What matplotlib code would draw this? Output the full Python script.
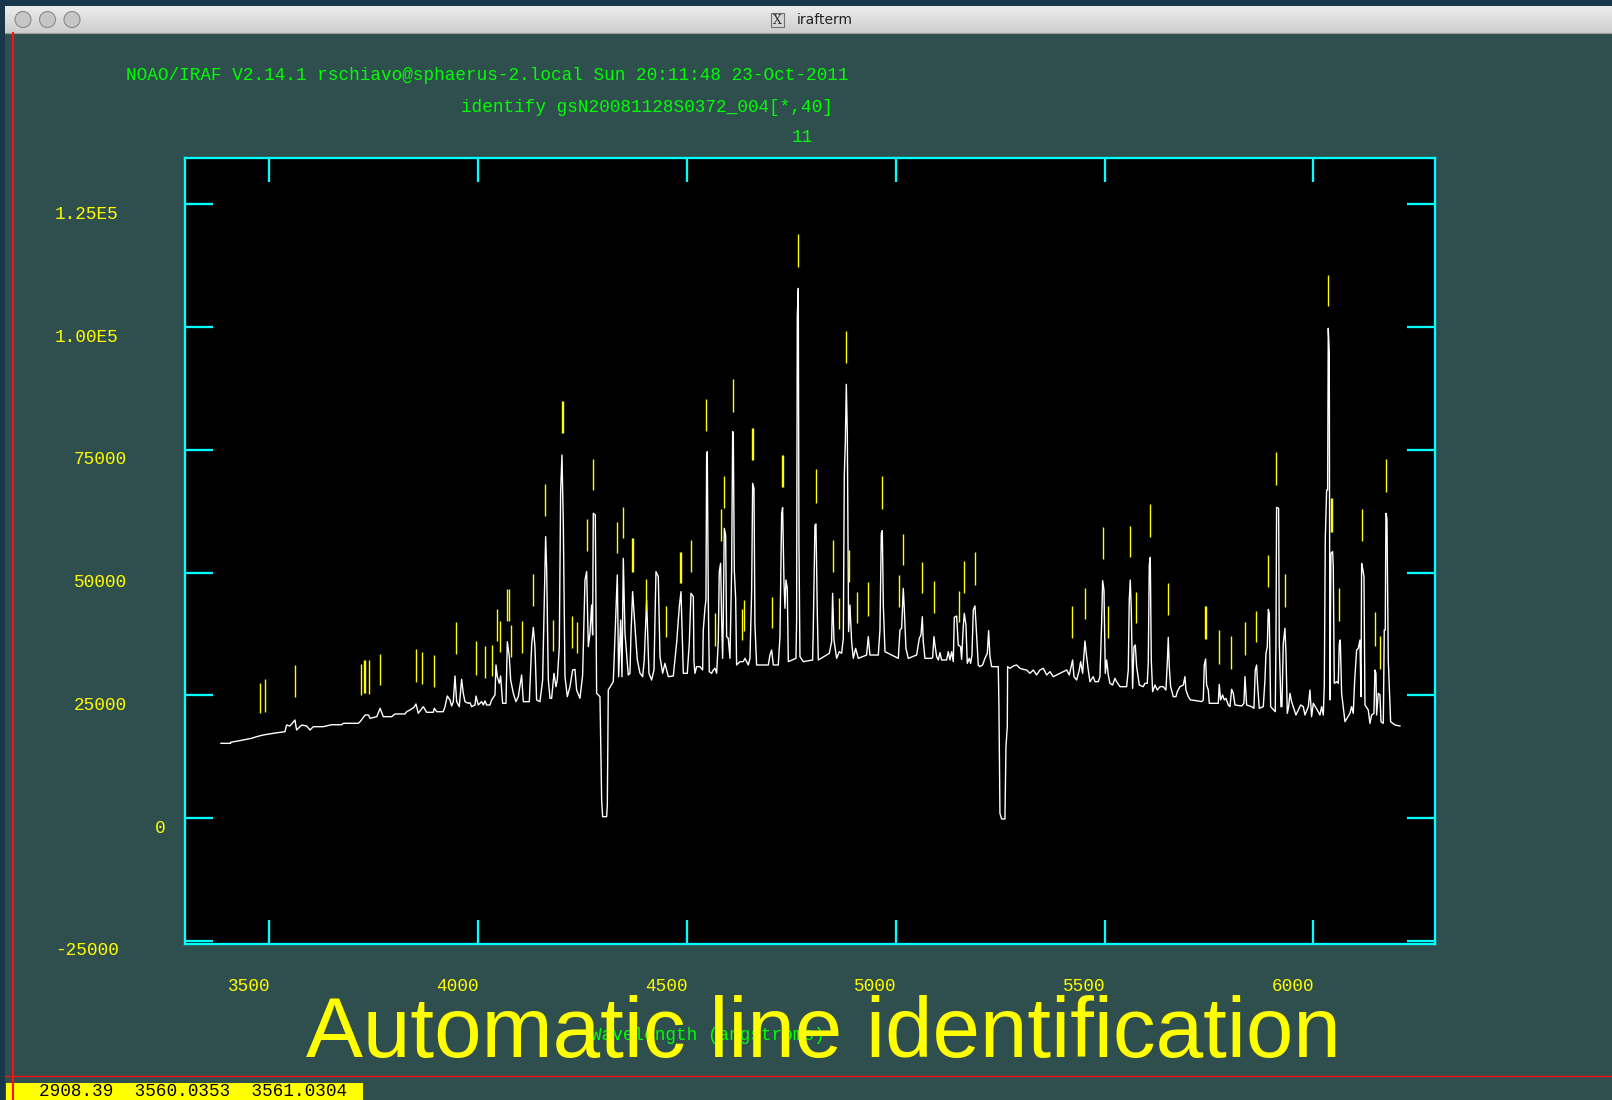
import matplotlib
matplotlib.use("Agg")
import matplotlib.pyplot as plt
import numpy as np
from matplotlib import transforms
from matplotlib.patches import Rectangle, Circle
from matplotlib.colors import LinearSegmentedColormap

# ---- spectrum (wavelength in A, counts) ----
spec_wave = [3383.8, 3407, 3407, 3433.4, 3457.4, 3469.3, 3485.2, 3509, 3537, 3541, 3549, 3561, 3565, 3577,
             3589, 3597, 3605, 3629, 3649, 3673, 3677, 3713, 3717, 3729, 3737, 3741, 3757, 3765, 3772.5,
             3792.6, 3800.5, 3824.5, 3828.5, 3836.4, 3846, 3850.8, 3856.3, 3868.3, 3876.4, 3892.2, 3894.6,
             3900.4, 3916.2, 3920.3, 3925.8, 3932.2,
             3936.2, 3940.2, 3944.2, 3948.2, 3954.5, 3960.1, 3964.1, 3968.1, 3976.1, 3980.1, 3984.1, 3992.1,
             3994.5, 4000, 4008, 4012, 4016, 4020, 4028, 4032, 4040, 4042.4, 4045.5, 4050.3, 4053.5, 4058.3,
             4066.3, 4069.5, 4074.3, 4077.5, 4083.9, 4090.2, 4095.8, 4103.8, 4107.8, 4122.2, 4127.8, 4131.8,
             4135.7, 4139.7, 4147.7, 4154.1, 4158.1, 4161.3, 4163.7, 4167.7, 4171.7, 4175.7, 4181.3, 4186,
             4189.2, 4194, 4197.2, 4200.4, 4203.6, 4207.6, 4213.2, 4219.6, 4225.9, 4231.5, 4235.5, 4243.5,
             4249.9, 4255.5, 4259.5, 4263.5, 4267.4, 4271.4, 4273.8, 4275.4, 4280.2, 4283.4, 4291.4, 4295.4,
             4297.8, 4307.4, 4309, 4311.3, 4323.3, 4327.3, 4332.9, 4336.1, 4340.9, 4344.1, 4347.3, 4351.3,
             4359.2, 4363.2, 4365.6, 4369.6, 4375.2, 4380.8, 4387.2, 4393.6, 4397.5, 4403.1, 4408.7, 4415.1,
             4420.7, 4425.5, 4431.1, 4435.1, 4441.5, 4447, 4455, 4467, 4475, 4481.4, 4485.4, 4491, 4500.5,
             4505.3,
             4509.3, 4514.9, 4516.5, 4518.9, 4522.9, 4530.8, 4537.2, 4538.8, 4542.8, 4545.2, 4546.8, 4548.4,
             4550.8, 4553.2, 4558.8, 4562.8, 4566.8, 4570.8, 4574.7, 4577.1, 4580.3, 4582.7, 4585.1, 4586.7,
             4589.1, 4592.3, 4594.7, 4598.7, 4602.7, 4606.7, 4609.1, 4610.7, 4613.1, 4616.3, 4618.6, 4626.6,
             4634.6, 4638.6, 4646.6, 4650.6, 4654.6, 4657, 4660.2, 4662.5, 4666.5, 4694.5, 4698.5, 4702.5,
             4706.5, 4718.4, 4722.4, 4726.4, 4728.8, 4732, 4734.4, 4736.8, 4740, 4742.4, 4760.7, 4762.3,
             4763.9, 4766.3, 4767.9, 4770.3, 4778.3, 4800.6, 4802.2, 4806.2, 4808.6, 4811.8, 4814.2, 4840.5,
             4846.1, 4848.5, 4851.7, 4858.1, 4864.5, 4870.1, 4874.1, 4876.5, 4878.9, 4881.3, 4883.7, 4886.8,
             4890, 4894, 4898, 4903.6, 4910, 4929.9, 4933.9, 4937.9, 4957.9, 4961.9, 4965.1, 4967.5, 4969.9,
             4973.9, 5005.8, 5009.8, 5013.8, 5017.7, 5020.1, 5024.1, 5029.7, 5049.7, 5056.1, 5060.1, 5063.3,
             5065.6, 5069.6, 5085.6,
             5088, 5091.2, 5093.6, 5097.6, 5101.6, 5105.5, 5109.5, 5121.5, 5125.5, 5129.5, 5133.5, 5137.5,
             5139.9, 5145.5, 5149.4, 5155, 5157.4, 5161.4, 5163.8, 5167.8, 5171, 5175.8, 5179, 5182.2, 5185.4,
             5189.4, 5193.3, 5197.3, 5201.3, 5207.7, 5213.3, 5218.9, 5222.1, 5225.3, 5229.3, 5245.2, 5246.8,
             5249.2, 5253.2, 5261.2, 5263.6, 5266.8, 5267.6, 5273.2, 5281.2, 5289.1, 5297.1, 5305.1, 5313.1,
             5321.1, 5329, 5337, 5345, 5353, 5361, 5369, 5376.9, 5384.9, 5392.9, 5408.9, 5415.3, 5423.2,
             5426.4, 5432.8, 5439.2, 5442.4, 5447.2, 5450.4, 5452.8, 5456.8, 5460.7, 5464.7, 5472.7, 5476.7,
             5484.7, 5488.7, 5492.7, 5495.1, 5498.3, 5501.5, 5504.7, 5508.6, 5512.6, 5519, 5524.6, 5528.6,
             5536.6, 5552.5, 5556.5, 5558.9, 5561.3, 5563.7, 5566.9, 5570.1, 5573.3, 5576.5, 5582.9, 5592.4,
             5596.4, 5602, 5604.4, 5606.8, 5609.2, 5611.6, 5614.8, 5620.4, 5626, 5632.4, 5640.3, 5646.7,
             5649.9, 5652.3, 5654.7, 5657.9,
             5664.3, 5670.7, 5673.9, 5680.2, 5688.2, 5692.2, 5694.6, 5700.2, 5705.8, 5720.2, 5732.1, 5736.1,
             5738.5, 5741.7, 5744.1, 5748.1, 5750.5, 5772, 5774.4, 5777.6, 5782.4, 5786.4, 5790.4, 5796, 5800,
             5804, 5808, 5812, 5827.9, 5833.5, 5835.9, 5839.9, 5851.9, 5857.4, 5860.6, 5863.8, 5866.2, 5870.2,
             5879.8, 5883.8, 5886.2, 5889.4, 5891.8, 5894.2, 5897.4, 5908.5, 5910.1, 5911.7, 5916.5, 5918.1,
             5922.1, 5924.5, 5927.7, 5931.7, 5934.1, 5937.3, 5940.5, 5943.7, 5947.6, 5958, 5969.2, 5975.6,
             5979.6, 5987.6, 5991.5, 5995.5, 5999.5, 6009.1, 6015.5, 6019.5, 6023.5, 6025.9, 6028.3, 6031.5,
             6033.9, 6035.4, 6037.8, 6039.4, 6041.8, 6045.8, 6047.4, 6049.8, 6055.4, 6059.4, 6061.8, 6064.2,
             6067.4, 6075.4, 6087.3, 6091.3, 6095.3, 6098.5, 6103.3, 6107.3, 6111.3, 6113.7, 6115.3, 6117.7,
             6120.9, 6123.3, 6131.2, 6135.2, 6139.2, 6144.8, 6147.2, 6149.6, 6151.2, 6155.2, 6159.2, 6161.6,
             6167.2, 6169.5, 6171.9, 6173.5, 6175.9, 6179.1, 6181.5, 6184.7, 6195.1, 6207.1]

spec_flux = [15210, 15210, 15420, 15830, 16240, 16570, 16910, 17250, 17580, 18940, 18740, 19960, 17930, 18940,
             18740, 17930, 18600, 18600, 19000, 19000, 19290, 19290, 19620, 20980, 20980, 20310, 20640, 22350, 20640,
             20640, 21190, 21190, 21650, 22000, 22550, 23220, 21330, 22670, 21530, 21530, 22350,
             21650, 21650, 22670, 24850, 24040,
             22820, 23700, 28930, 23700, 22680, 28250, 25400, 23700, 23360, 23490, 22680, 23020,
             24850, 23020, 23700, 23020, 23830, 23020, 23020, 24040, 25060, 31170, 28790, 27430, 28930, 23360,
             23360, 35920, 32860, 28110, 25400, 23700, 24720, 29130, 23700, 23700, 35240, 38840,
             34900, 24040, 23700, 28110, 44070, 57310, 50860, 28110, 24380, 24380, 29470, 26750,
             28110, 34900, 66470, 73940, 60020, 28790, 24720, 26750, 30150, 30280, 26070, 24380,
             29130, 48480, 50180, 34900, 37620, 43390, 37280, 62060, 61720, 25400, 24720, 3670,
             270, 270, 2650, 26070, 27770, 36600, 49500, 28790, 40330, 28790, 52890, 37620,
             29130, 29470, 37280, 46110, 38980, 32220, 29510, 28790, 32220, 44410, 29470, 28110,
             30150, 50180, 49160, 32860, 29470, 31510, 28790, 28930, 35720, 43050, 46110, 29470, 29470,
             35580,
             45770, 45090, 31850, 29470, 30830, 30830, 30150, 38300, 42710, 44410, 73940, 74620,
             44410, 29810, 29470, 30150, 30490, 29470, 35920, 50180, 51880, 40670, 32520, 40670,
             59010, 57650, 36940, 36600, 32520, 50520, 78700, 78560, 50520, 44750, 31170, 31850,
             31850, 32520, 31170, 32520, 46110, 68170, 67150, 39310, 31170, 31170, 33200, 34220,
             31170, 31170, 36940, 62060, 63220, 48140, 42710, 48480, 46780, 31850, 32520, 39990,
             102120, 107890, 55950, 32860, 31850, 32180, 38640, 59680, 59890, 42030, 32180, 33540,
             35920, 45770, 36260, 32520, 33880, 33540, 36600, 69870, 76320, 88340, 78360, 37960,
             43390, 35920, 32520, 34560, 32520, 33200, 36940, 33200, 33200, 38300, 57990, 58530, 43390,
             33880, 32520, 38300, 38640, 46780, 42710, 34560, 32520, 33200, 36600, 37280, 41010,
             35920, 32520, 32520,
             32730, 36940, 35240, 32860, 32190, 33680, 32190, 32190, 33880, 32190, 33880, 31850,
             40880, 41150, 35240, 34900, 32320, 38980, 41690, 39310, 31510, 32520, 31510, 33210, 42370,
             43190, 37280, 31170, 30830, 31170, 32520, 33540, 38160, 32860, 30830, 30830, 22680,
             950, -200, -200, 14530, 18610, 30830, 30490, 30960, 31170, 30490, 30280, 30150,
             29470, 30150, 29130, 30150, 30490, 29130, 29810, 28790, 29130, 29470, 30150, 29130, 32190,
             28790, 28110, 30150, 31850, 29470, 33200, 36060, 32860, 30150, 27770, 28790, 27770,
             27770, 28790, 39650, 48350, 46440, 29470, 32190, 29130, 27430, 27090, 28450, 27770,
             26750, 26750, 30150, 44410, 48480, 42370, 26410, 34900, 35240, 30830, 27090, 26750,
             27430, 27430, 31510, 51540, 53100, 32190, 25730, 27090, 26070, 26750, 26750, 26070,
             31510, 36800, 30830, 26750,
             24720, 24720, 25740, 26750, 27090, 28790, 26070, 24720, 24040, 23900, 23700, 24040,
             31170, 32390, 27090, 26070, 23360, 23360, 27230, 24040, 25060, 24040, 24380, 23020, 22680,
             26210, 25400, 23020, 22820, 23360, 28790, 23020, 22680, 22340, 30150, 31170, 27090, 22340,
             22680, 28110, 33540, 34900, 42510, 41690, 22680, 21660, 35240, 63280, 63080, 35580,
             22680, 22680, 35580, 38640, 33540, 21320, 22680, 25400, 23700, 20980, 23020, 22680,
             20980, 22680, 26070, 20640, 23360, 22000, 20980, 22680, 20980, 27090, 56970, 66810,
             66810, 99750, 94990, 24040, 53910, 54250, 51200, 27430, 27770, 27430, 35580, 36260,
             25400, 19620, 21320, 22680, 21320, 27770, 34220, 34560, 36260, 24720, 51880, 50860,
             49160, 23020, 22000, 19280, 20980, 21320, 30150, 29470, 20980, 25400, 25060, 19620,
             19280, 38300, 38300, 62060, 61040, 32190, 26750, 19620, 18950, 18740]

# ---- identified lines (yellow marks) ----
mark_wave = [3478.0, 3490.0, 3561.8, 3719.9, 3727.1, 3729.5, 3739.0, 3765.4, 3851.6, 3866.0, 3894.7, 3947.4,
             3995.3, 4016.8, 4033.6, 4045.5, 4052.7, 4069.5, 4072.7, 4079.1, 4105.4, 4131.8, 4160.5, 4179.6,
             4199.6, 4202.0, 4225.1, 4237.1, 4261.0, 4275.4, 4332.9, 4347.3, 4368.8, 4371.2, 4402.3, 4450.3,
             4483.8, 4486.1, 4510.1,
             4546.0, 4566.8, 4581.9, 4589.1, 4610.7, 4632.2, 4637.0, 4656.2, 4658.6, 4704.1, 4728.0, 4730.4,
             4766.3, 4809.4, 4850.1, 4864.5, 4881.3, 4888.4, 4907.6, 4933.9, 4967.5, 5008.2, 5017.7, 5063.3,
             5092.0,
             5151.8, 5163.8, 5190.2, 5422.4, 5453.6, 5496.7, 5508.6, 5561.3, 5575.7, 5609.2, 5652.3,
             5740.9, 5743.3, 5774.4, 5803.2, 5836.7, 5863.0, 5891.8, 5910.9, 5932.5, 6035.4, 6042.6, 6045.0,
             6061.8, 6116.9, 6148.0, 6160.0, 6174.3]
mark_lo = [21320, 21660, 24720, 25120, 25530, 25530, 25330, 27160, 27770, 27360, 26750, 33500,
           29130, 28590, 28930, 36120, 33880, 40200, 40200, 32860, 33540, 43250, 61590, 34090,
           78490, 78490, 34700, 33540, 54460, 66810, 54050, 57100, 50180, 50180, 42370, 36940,
           47940, 47940, 50180,
           78900, 35100, 56430, 63220, 82770, 36260, 38090, 72920, 72920, 38770, 67490, 67490,
           112310, 64230, 50180, 38500, 92750, 48140, 39790, 41220, 62940, 43050, 51540, 45900,
           41830,
           39990, 45900, 47460, 36600, 40470, 52830, 36600, 53230, 39790, 57310, 41280,
           36460, 36460, 31370, 30350, 33200, 35850, 47120, 67830, 43050, 104300, 58330, 58330,
           40130, 56490, 35040, 30350, 66470]
mark_hi = [27430, 28250, 31100, 31300, 32120, 32120, 32120, 33340, 34360, 33820, 33200, 39900,
           36060, 35040, 35240, 42570, 40200, 46650, 46650, 39310, 40130, 49700, 68040, 40330,
           84940, 84940, 41150, 39860, 60910, 73130, 60300, 63350, 57040, 57040, 48690, 43190,
           54190, 54190, 56630,
           85350, 41690, 62940, 69670, 89420, 42570, 44410, 79440, 79440, 45020, 73940, 73940,
           118960, 71090, 56630, 44880, 99200, 54590, 46100, 48140, 69730, 49500, 57850, 52220,
           48280,
           46240, 52350, 54120, 43190, 46780, 59210, 43190, 59480, 45970, 63960, 47800,
           43190, 43190, 38300, 37070, 39930, 42170, 53570, 74560, 49700, 110610, 65180, 65180,
           46780, 62940, 42030, 37070, 73130]

xticks = [3500, 4000, 4500, 5000, 5500, 6000]
yticks = [-25000, 0, 25000, 50000, 75000, 100000, 125000]
ytick_text = ['-25000', '0', '25000', '50000', '75000', '1.00E5', '1.25E5']
ytick_left = [55, 155, 74, 74, 74, 55, 55]   # IRAF puts the label start here (pixels)

header1 = "NOAO/IRAF V2.14.1 rschiavo@sphaerus-2.local Sun 20:11:48 23-Oct-2011"
header2 = "identify gsN20081128S0372_004[*,40]"
header3 = "11"
status = "2908.39  3560.0353  3561.0304"

BG = '#2f4f4f'
CYAN = '#00ffff'
YEL = '#ffff00'
GRN = '#00ff00'
MONO = 'Liberation Mono'
FS = 12.7

W, H = 1612, 1100
fig = plt.figure(figsize=(W / 100, H / 100), dpi=100, facecolor=BG)

# pixel overlay for the window chrome and the IRAF text
deco = fig.add_axes([0, 0, 1, 1], zorder=0)
deco.axis('off')

grad = LinearSegmentedColormap.from_list('bar', ['#ededed', '#cdcdcd'])
deco.imshow(np.linspace(0, 1, 50)[:, None], cmap=grad, extent=(4.5, W, 32.7, 6), aspect='auto')
deco.set_xlim(0, W)
deco.set_ylim(H, 0)
deco.add_patch(Rectangle((0, 0), W, 6, color='#16384a', lw=0))
deco.add_patch(Rectangle((0, 0), 4.5, H, color='#16384a', lw=0))
deco.plot([4.5, W], [32.7, 32.7], color='#9a9a9a', lw=0.8)
for cx in [23, 47.5, 72]:
    deco.add_patch(Circle((cx, 19.5), 8, fc='#c6c6c6', ec='#8a8a8a', lw=0.8))
deco.add_patch(Rectangle((771, 13), 13, 14, fc='#d6d6d6', ec='#707070', lw=0.8))
deco.text(777.5, 20.3, 'X', fontsize=9, ha='center', va='center', color='#333333', family='DejaVu Serif')
deco.text(797, 20, 'irafterm', fontsize=10, ha='left', va='center', color='#222222', family='DejaVu Sans')

# header lines
deco.text(126, 75, header1, color=GRN, family=MONO, fontsize=FS, ha='left', va='center')
deco.text(461, 107, header2, color=GRN, family=MONO, fontsize=FS, ha='left', va='center')
deco.text(792, 138, header3, color=GRN, family=MONO, fontsize=FS, ha='left', va='center')

# axis title and the big overlay caption
deco.text(591, 1035, 'Wavelength (angstroms)', color=GRN, family=MONO, fontsize=FS,
          ha='left', va='center', zorder=2)
deco.text(306, 1057, 'Automatic line identification', color=YEL, family='Liberation Sans',
          fontsize=61.5, ha='left', va='baseline', zorder=3)

# status bar and cursor cross-hair
deco.add_patch(Rectangle((6, 1083.3), 356.7, 16.7, fc=YEL, lw=0, zorder=4))
deco.text(39, 1092, status, color='black', family=MONO, fontsize=FS, ha='left', va='center', zorder=5)
deco.plot([12.5, 12.5], [33, H], color='#ff1010', lw=1.5, zorder=6)
deco.plot([4.5, W], [1076, 1076], color='#ff1010', lw=1.0, zorder=6)

# ---- the IRAF plot itself ----
ax = fig.add_axes([185 / W, 1 - 943.8 / H, 1250 / W, 785.5 / H], zorder=1)
ax.set_facecolor('black')
ax.set_xlim(3297.7, 6291)
ax.set_ylim(-25625, 134380)
for s in ax.spines.values():
    s.set_color(CYAN)
    s.set_linewidth(1.65)
ax.set_xticks(xticks)
ax.set_yticks(yticks)
ax.tick_params(axis='x', direction='in', length=17, width=1.65, color=CYAN,
               top=True, bottom=True, labelbottom=False)
ax.tick_params(axis='y', direction='in', length=20, width=1.65, color=CYAN,
               left=True, right=True, labelleft=False)

ax.plot(spec_wave, spec_flux, color='white', lw=1.0)
ax.vlines(mark_wave, mark_lo, mark_hi, colors=YEL, lw=1.0)

# IRAF style tick labels
xtr = transforms.blended_transform_factory(ax.transData, ax.transAxes)
for t in xticks:
    ax.text(t + 2, -0.0546, str(t), transform=xtr, color=YEL, family=MONO, fontsize=FS,
            ha='right', va='center', clip_on=False)
ytr = transforms.offset_copy(transforms.blended_transform_factory(ax.transAxes, ax.transData),
                             fig=fig, y=-10, units='dots')
for v, txt, px in zip(yticks, ytick_text, ytick_left):
    ax.text((px - 185) / 1250, v, txt, transform=ytr, color=YEL, family=MONO, fontsize=FS,
            ha='left', va='center', clip_on=False)

fig.savefig('out.png', dpi=100, facecolor=BG)
